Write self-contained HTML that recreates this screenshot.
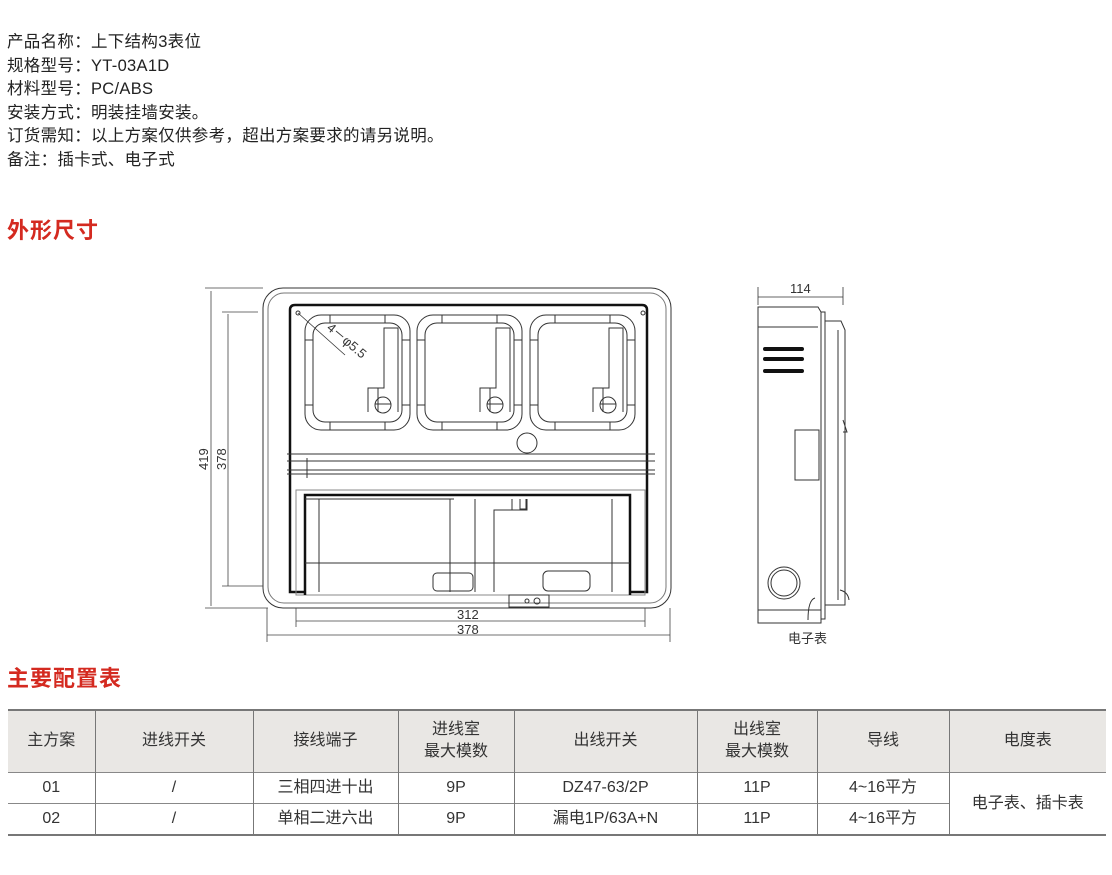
<!DOCTYPE html>
<html><head><meta charset="utf-8"><style>
body{margin:0;width:1112px;height:875px;background:#fff;position:relative;font-family:"Liberation Sans","Noto Sans CJK SC",sans-serif;color:#222;overflow:hidden}
.info{position:absolute;left:7px;top:31px;font-size:16.5px;line-height:23.5px;letter-spacing:0.3px}
.h{position:absolute;left:7px;font-size:22px;font-weight:bold;color:#d42a20;letter-spacing:1px}
table{position:absolute;left:8px;top:710px;width:1098px;border-collapse:collapse;font-size:16px;color:#333;table-layout:fixed}
td{text-align:center;border-left:1px solid #777;padding:0;line-height:22px}
td:first-child{border-left:none}
tr.hd td{background:#e9e7e4;height:62px}
tr.r td{height:30px;border-top:1px solid #888}
</style></head><body>
<div class="info">产品名称：上下结构3表位<br>规格型号：YT-03A1D<br>材料型号：PC/ABS<br>安装方式：明装挂墙安装。<br>订货需知：以上方案仅供参考，超出方案要求的请另说明。<br>备注：插卡式、电子式</div>
<div class="h" style="top:213px">外形尺寸</div>
<div class="h" style="top:661px">主要配置表</div>
<svg width="1112" height="875" style="position:absolute;left:0;top:0" fill="none" stroke="#333" stroke-width="1">
<rect x="263" y="288" width="408" height="320" rx="20"/>
<rect x="268" y="293" width="398" height="310" rx="16" stroke="#777"/>
<path d="M305 592 H290 V310 Q290 305 295 305 H642 Q647 305 647 310 V592 H631" stroke="#111" stroke-width="2.5"/>
<g id="w">
<rect x="305" y="315" width="105" height="115" rx="16"/>
<rect x="313" y="323" width="89" height="99" rx="12"/>
<path d="M330 315v8M385 315v8M330 430v-8M385 430v-8M305 340h8M305 405h8M410 340h-8M410 405h-8"/>
<path d="M378 412 V388 H384 V328 H398 V412"/>
<path d="M368 412 V388 H378"/>
<circle cx="383" cy="405" r="8"/><path d="M375 404h16"/>
</g>
<use href="#w" x="112"/><use href="#w" x="225"/>
<circle cx="527" cy="443" r="10"/>
<path d="M287 454H655M287 461H655M287 470H655M287 474H655M307 458v20"/>
<rect x="296" y="490" width="349" height="105" stroke="#888"/>
<path d="M305 595V495H630V595" stroke="#111" stroke-width="2.5"/>
<path d="M319 499V592M612 499V592M305 499H454M305 563H630M450 499V592M475 499V592M494 592V510H512V499M520 499v10h6v-10M497 510h30V499"/>
<rect x="433" y="573" width="40" height="18" rx="4"/><rect x="543" y="571" width="47" height="20" rx="5"/>
<rect x="509" y="595" width="40" height="12"/><circle cx="527" cy="601" r="2"/><circle cx="537" cy="601" r="3"/>
<circle cx="298" cy="313" r="2"/><circle cx="643" cy="313" r="2"/>
<path d="M298 313L345 355" stroke-width="0.8"/>
<text x="326" y="329" transform="rotate(40 326 329)" font-size="13" fill="#333" stroke="none" font-family="Liberation Sans">4－φ5.5</text>
<g stroke="#444" stroke-width="0.8">
<path d="M211 291V606M205 288H263M205 608H268M228 314V586M222 312H258M222 586H263M296 608V627M645 608V627M296 621H645M267 608V642M670 608V642M267 635H670"/>
</g>
<g font-size="13" fill="#333" stroke="none" font-family="Liberation Sans">
<text x="208" y="470" transform="rotate(-90 208 470)">419</text>
<text x="226" y="470" transform="rotate(-90 226 470)">378</text>
<text x="457" y="619">312</text><text x="457" y="634">378</text>
<text x="790" y="293">114</text>
<text x="788" y="643" font-family="Noto Sans CJK SC">电子表</text>
</g>
<path d="M758 287V305M843 287V305M758 297H843" stroke-width="0.8"/>
<path d="M758 307H818L821 312V623H758Z"/>
<path d="M758 327H818M758 610H821"/>
<path d="M821 312H825V619H821"/>
<path d="M825 321H841L845 330V605H825"/>
<path d="M838 330V600M843 420L847 432H843"/>
<rect x="795" y="430" width="24" height="50"/>
<g stroke="#111" stroke-width="4" stroke-linecap="round"><path d="M765 349H802M765 359H802M765 371H802"/></g>
<circle cx="784" cy="583" r="16"/><circle cx="784" cy="583" r="13"/>
<path d="M808 620Q808 600 815 598M840 590Q848 592 849 600"/>
</svg>
<table>
<colgroup><col style="width:87px"><col style="width:158px"><col style="width:145px"><col style="width:116px"><col style="width:183px"><col style="width:120px"><col style="width:132px"><col style="width:157px"></colgroup>
<tr class="hd"><td>主方案</td><td>进线开关</td><td>接线端子</td><td>进线室<br>最大模数</td><td>出线开关</td><td>出线室<br>最大模数</td><td>导线</td><td>电度表</td></tr>
<tr class="r"><td>01</td><td>/</td><td>三相四进十出</td><td>9P</td><td>DZ47-63/2P</td><td>11P</td><td>4~16平方</td><td rowspan="2">电子表、插卡表</td></tr>
<tr class="r"><td>02</td><td>/</td><td>单相二进六出</td><td>9P</td><td>漏电1P/63A+N</td><td>11P</td><td>4~16平方</td></tr>
</table>
<div style="position:absolute;left:8px;top:709px;width:1098px;height:2px;background:#777"></div>
<div style="position:absolute;left:8px;top:834px;width:1098px;height:2px;background:#777"></div>
</body></html>
